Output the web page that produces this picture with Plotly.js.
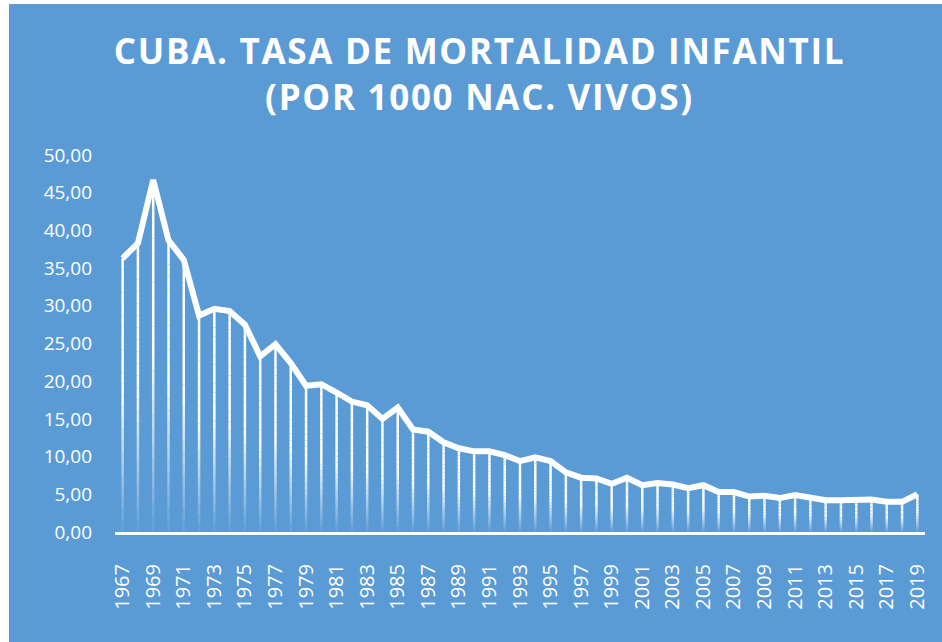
<!DOCTYPE html>
<html>
<head>
<meta charset="utf-8">
<script src="https://cdn.plot.ly/plotly-3.0.1.min.js"></script>
<style>
  html, body { margin: 0; padding: 0; background: #ffffff; width: 942px; height: 642px; overflow: hidden; }
  #chart { position: absolute; left: 9px; top: 4px; width: 933px; height: 638px; }
  .gtitle { letter-spacing: 1.7px; }
</style>
</head>
<body>
<div id="chart"></div>
<script>
const years = [1967,1968,1969,1970,1971,1972,1973,1974,1975,1976,1977,1978,1979,1980,1981,1982,1983,1984,1985,1986,1987,1988,1989,1990,1991,1992,1993,1994,1995,1996,1997,1998,1999,2000,2001,2002,2003,2004,2005,2006,2007,2008,2009,2010,2011,2012,2013,2014,2015,2016,2017,2018,2019];
const tasa = [36.3,38.3,46.7,38.7,36.1,28.7,29.6,29.3,27.5,23.3,24.9,22.4,19.4,19.6,18.5,17.3,16.8,15.0,16.5,13.6,13.3,11.9,11.1,10.7,10.7,10.2,9.4,9.9,9.4,7.9,7.2,7.1,6.4,7.2,6.2,6.5,6.3,5.8,6.2,5.3,5.3,4.7,4.8,4.5,4.9,4.6,4.2,4.2,4.3,4.3,4.0,4.0,5.0];
const tickYears = [1967,1969,1971,1973,1975,1977,1979,1981,1983,1985,1987,1989,1991,1993,1995,1997,1999,2001,2003,2005,2007,2009,2011,2013,2015,2017,2019];
const titleText = 'CUBA. TASA DE MORTALIDAD INFANTIL<br>(POR 1000 NAC. VIVOS)';

const BLUE = '#5b9bd5';
const traces = [];

// Drop lines with a fade toward the axis, drawn as stacked segments
const N = 24;
for (let k = 0; k < N; k++) {
  const f0 = k / N, f1 = (k + 1) / N, fm = (f0 + f1) / 2;
  let a = 1;
  if (fm > 0.5) a = Math.max(0.03, 1 - (fm - 0.5) / 0.5 * 0.97);
  const xs = [], ys = [];
  years.forEach((yr, i) => {
    xs.push(yr, yr, null);
    ys.push(tasa[i] * (1 - f0), tasa[i] * (1 - f1), null);
  });
  traces.push({
    type: 'scatter', mode: 'lines', x: xs, y: ys,
    line: { color: 'rgba(255,255,255,' + a.toFixed(3) + ')', width: 2.5 },
    hoverinfo: 'skip', showlegend: false, cliponaxis: false
  });
}

traces.push({
  type: 'scatter', mode: 'lines', x: years, y: tasa,
  line: { color: '#ffffff', width: 6 },
  showlegend: false, hoverinfo: 'skip'
});

const layout = {
  width: 933, height: 638,
  paper_bgcolor: BLUE, plot_bgcolor: BLUE,
  margin: { l: 106, r: 17, t: 151, b: 110 },
  separators: ',.',
  font: { family: '"Open Sans", "DejaVu Sans", sans-serif', color: '#ffffff' },
  title: {
    text: titleText,
    font: { family: '"Open Sans", sans-serif', size: 35, color: '#ffffff', weight: 'bold' },
    x: 0.5 + 4 / 933, xanchor: 'center', xref: 'container',
    y: 1 - 60 / 638, yanchor: 'top', yref: 'container'
  },
  xaxis: {
    type: 'linear', range: [1966.5, 2019.5],
    tickmode: 'array', tickvals: tickYears, ticktext: tickYears.map(String),
    tickangle: -90, tickfont: { size: 20, color: '#ffffff' },
    ticks: '', ticklabelstandoff: 21,
    showgrid: false, zeroline: false,
    showline: true, linecolor: '#ffffff', linewidth: 3
  },
  yaxis: {
    range: [0, 50], dtick: 5, tick0: 0, tickformat: '.2f',
    tickfont: { size: 19, color: '#ffffff' },
    ticks: '', ticklabelstandoff: 22,
    showgrid: false, zeroline: false, showline: false
  },
  hovermode: false
};

Plotly.newPlot('chart', traces, layout, { displayModeBar: false, staticPlot: true });
</script>
</body>
</html>
